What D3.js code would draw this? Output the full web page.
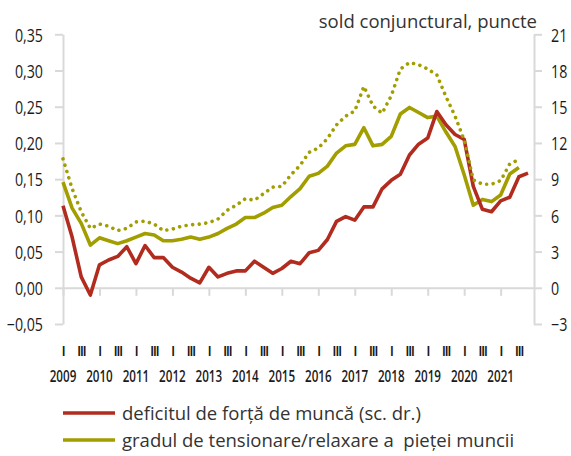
<!DOCTYPE html>
<meta charset="utf-8">
<head>
    <title>Piata muncii</title>
    <style>
        body { margin: 0; background: #fff; }
        .tick text { font-family: "Open Sans", sans-serif; font-size: 18px; fill: #1a1a1a; }
        .roman { font-family: "Open Sans", sans-serif; font-size: 14px; font-weight: 600; letter-spacing: -1.5px; fill: #1a1a1a; }
        .year { font-family: "Open Sans", sans-serif; font-size: 15.5px; font-weight: 600; fill: #1a1a1a; }
        .legend, .unit { font-family: "Open Sans", sans-serif; font-size: 18.5px; fill: #333; }
    </style>
</head>
<body>
<script src="https://cdn.jsdelivr.net/npm/d3@7"></script>
<script>
    // years on the x axis, one point per quarter
    var years = [2009, 2010, 2011, 2012, 2013, 2014, 2015, 2016, 2017, 2018, 2019, 2020, 2021];
    var quarterNames = ["I", "II", "III", "IV"];

    // deficitul de forta de munca (sc. dr.), 2009 T1 - 2021 T4
    var deficit = [6.8, 4.2, 0.9, -0.6, 1.9, 2.3, 2.6, 3.4, 2.0, 3.5, 2.5, 2.5, 1.7, 1.3, 0.8, 0.4,
                   1.7, 0.9, 1.2, 1.4, 1.4, 2.2, 1.7, 1.2, 1.6, 2.2, 2.0, 2.9, 3.1, 4.0, 5.5, 5.9,
                   5.6, 6.7, 6.7, 8.2, 8.9, 9.4, 11.0, 11.9, 12.4, 14.6, 13.5, 12.7, 12.3, 8.4, 6.5, 6.3,
                   7.2, 7.5, 9.2, 9.5];
    // gradul de tensionare/relaxare a pietei muncii, 2009 T1 - 2021 T3
    var tensionare = [0.146, 0.110, 0.089, 0.059, 0.069, 0.065, 0.061, 0.065, 0.070, 0.075, 0.073, 0.065,
                      0.065, 0.067, 0.070, 0.067, 0.070, 0.075, 0.082, 0.088, 0.097, 0.097, 0.103, 0.111,
                      0.114, 0.126, 0.137, 0.154, 0.158, 0.168, 0.186, 0.196, 0.198, 0.221, 0.196, 0.198,
                      0.209, 0.240, 0.249, 0.242, 0.235, 0.237, 0.215, 0.195, 0.156, 0.114, 0.122, 0.119,
                      0.128, 0.157, 0.166];
    // linia punctata (fara legenda)
    var punctat = [0.178, 0.137, 0.105, 0.082, 0.088, 0.085, 0.079, 0.082, 0.091, 0.092, 0.088, 0.079,
                   0.081, 0.085, 0.087, 0.088, 0.090, 0.095, 0.107, 0.114, 0.123, 0.121, 0.130, 0.139,
                   0.140, 0.156, 0.169, 0.187, 0.193, 0.206, 0.225, 0.237, 0.244, 0.278, 0.251, 0.241,
                   0.265, 0.302, 0.311, 0.308, 0.302, 0.294, 0.264, 0.237, 0.204, 0.149, 0.143, 0.143,
                   0.148, 0.171, 0.177];

    var leftTicks = [-0.05, 0, 0.05, 0.10, 0.15, 0.20, 0.25, 0.30, 0.35];
    var rightTicks = [-3, 0, 3, 6, 9, 12, 15, 18, 21];

    var width = 571, height = 456;
    var red = "#b22b1f", green = "#a29e00", axisGrey = "#d9d9d9";

    var quarters = [];
    years.forEach(function(y) {
        quarterNames.forEach(function(q) { quarters.push(y + " " + q); });
    });

    // squeeze text horizontally, the original uses a condensed face
    function condense(sel, k) {
        sel.each(function() {
            var w = this.getComputedTextLength();
            d3.select(this).attr("textLength", w * k).attr("lengthAdjust", "spacingAndGlyphs");
        });
    }

    var svg = d3.select("body")
        .append("svg")
        .attr("width", width)
        .attr("height", height);

    // scales
    var x = d3.scalePoint().domain(quarters).range([63, 528]);
    var yLeft = d3.scaleLinear().domain([-0.05, 0.35]).range([324, 34.3]);
    var yRight = d3.scaleLinear().domain([-3, 21]).range([324, 34.3]);

    var ro = d3.formatLocale({decimal: ",", thousands: ".", grouping: [3], currency: ["", ""]});

    // left axis
    var gL = svg.append("g")
        .attr("transform", "translate(63,0)")
        .call(d3.axisLeft(yLeft).tickValues(leftTicks).tickFormat(ro.format(".2f"))
            .tickSize(8).tickSizeOuter(0).tickPadding(12));

    // right axis
    var gR = svg.append("g")
        .attr("transform", "translate(534,0)")
        .call(d3.axisRight(yRight).tickValues(rightTicks).tickFormat(ro.format("d"))
            .tickSize(8).tickSizeOuter(0).tickPadding(9));

    // zero line with year ticks
    var yearStarts = quarters.filter(function(q, i) { return i % 4 === 0; });
    var gX = svg.append("g")
        .attr("transform", "translate(0," + yLeft(0) + ")")
        .call(d3.axisBottom(x).tickValues(yearStarts).tickSize(8).tickSizeOuter(0).tickFormat(""));
    gX.select(".domain").attr("d", "M63,0.5H534");

    [gL, gR, gX].forEach(function(g) {
        g.selectAll("path, line").attr("stroke", axisGrey).attr("stroke-width", 2);
    });
    gL.selectAll("text").attr("dy", "0.38em").call(condense, 0.79);
    gR.selectAll("text").attr("dy", "0.38em").call(condense, 0.79);

    // I / III labels under the axis
    svg.append("g").selectAll("text")
        .data(quarters.filter(function(q, i) { return i % 2 === 0; }))
        .enter().append("text")
        .attr("class", "roman")
        .attr("x", function(d) { return x(d); })
        .attr("y", 356)
        .attr("text-anchor", "middle")
        .text(function(d) { return d.split(" ")[1]; });

    svg.append("g").selectAll("text")
        .data(years)
        .enter().append("text")
        .attr("class", "year")
        .attr("x", function(d) { return x(d + " I"); })
        .attr("y", 382)
        .attr("text-anchor", "middle")
        .text(function(d) { return d; })
        .call(condense, 0.75);

    // lines
    var lineLeft = d3.line()
        .x(function(d, i) { return x(quarters[i]); })
        .y(function(d) { return yLeft(d); });
    var lineRight = d3.line()
        .x(function(d, i) { return x(quarters[i]); })
        .y(function(d) { return yRight(d); });

    svg.append("path").datum(tensionare)
        .attr("d", lineLeft)
        .style("fill", "none").style("stroke", green).style("stroke-width", 3.6)
        .style("stroke-linejoin", "round");

    svg.append("path").datum(deficit)
        .attr("d", lineRight)
        .style("fill", "none").style("stroke", red).style("stroke-width", 3.6)
        .style("stroke-linejoin", "round");

    svg.append("path").datum(punctat)
        .attr("d", lineLeft)
        .style("fill", "none").style("stroke", green).style("stroke-width", 3.6)
        .style("stroke-linecap", "round").style("stroke-dasharray", "0.01,6.6");

    // unit label
    svg.append("text")
        .attr("class", "unit")
        .attr("x", 537)
        .attr("y", 28)
        .attr("text-anchor", "end")
        .text("sold conjunctural, puncte");

    // legend
    var legendItems = [
        {label: "deficitul de forță de muncă (sc. dr.)", color: red},
        {label: "gradul de tensionare/relaxare a\u00a0 pieței muncii", color: green}
    ];
    var legend = svg.append("g").selectAll("g")
        .data(legendItems)
        .enter().append("g")
        .attr("transform", function(d, i) { return "translate(0," + (413 + i * 27) + ")"; });
    legend.append("line")
        .attr("x1", 63).attr("x2", 115)
        .attr("stroke", function(d) { return d.color; })
        .attr("stroke-width", 3.6);
    legend.append("text")
        .attr("class", "legend")
        .attr("x", 122)
        .attr("y", 6.5)
        .text(function(d) { return d.label; });
</script>
</body>
</html>
